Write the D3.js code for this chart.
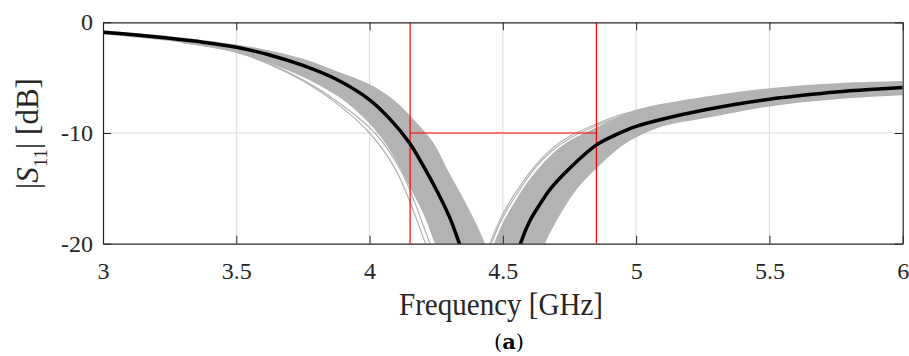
<!DOCTYPE html>
<html>
<head>
<meta charset="utf-8">
<script src="https://cdn.jsdelivr.net/npm/d3@7"></script>
<style>
  body { margin: 0; background: #fff; }
  svg { display: block; }
</style>
</head>
<body>
<div id="chart"></div>
<script>
// tick values
var freqTicks = [3, 3.5, 4, 4.5, 5, 5.5, 6];
var dbTicks = [0, -10, -20];

// nominal |S11| (black), left and right branch of the notch
var nomLeftF  = [3.0, 3.125, 3.25, 3.375, 3.5, 3.625, 3.75, 3.875, 4.0, 4.075, 4.15, 4.2, 4.25, 4.3, 4.337, 4.37];
var nomLeftDb = [-0.9, -1.15, -1.45, -1.8, -2.25, -2.95, -3.9, -5.15, -7.0, -8.7, -10.9, -12.9, -15.1, -17.6, -20, -22.3];
var nomRightF  = [4.54, 4.566, 4.6, 4.64, 4.68, 4.75, 4.85, 4.925, 5.0, 5.125, 5.25, 5.375, 5.5, 5.625, 5.75, 5.875, 6.0];
var nomRightDb = [-22.3, -20, -18.0, -16.4, -15.0, -13.2, -11.1, -10.15, -9.4, -8.6, -7.95, -7.4, -6.95, -6.6, -6.3, -6.08, -5.9];

// gray Monte Carlo band, edges
var bandLeftLowF   = [3.0, 3.25, 3.5, 3.625, 3.75, 3.875, 3.95, 4.03, 4.09, 4.15, 4.2, 4.245, 4.28];
var bandLeftLowDb  = [-1.1, -1.7, -2.7, -3.7, -4.95, -6.6, -8.0, -10.0, -12.1, -14.85, -17.2, -20, -22.3];
var bandLeftHighF  = [3.0, 3.25, 3.5, 3.625, 3.75, 3.875, 4.0, 4.09, 4.15, 4.24, 4.29, 4.34, 4.39, 4.433, 4.46];
var bandLeftHighDb = [-0.75, -1.25, -2.0, -2.55, -3.3, -4.4, -5.6, -7.0, -8.4, -10.9, -13.2, -15.4, -17.7, -20, -22];
var bandRightHighF  = [4.43, 4.466, 4.5, 4.55, 4.6, 4.68, 4.75, 4.85, 4.925, 5.0, 5.25, 5.5, 5.75, 6.0];
var bandRightHighDb = [-22.3, -20, -18.1, -16.0, -14.2, -12.0, -10.7, -9.5, -8.65, -7.9, -6.75, -5.95, -5.5, -5.3];
var bandRightLowF  = [4.63, 4.658, 4.7, 4.74, 4.78, 4.85, 4.95, 5.0, 5.1, 5.25, 5.5, 5.75, 6.0];
var bandRightLowDb = [-22.3, -20, -18.0, -16.4, -15.0, -13.2, -11.1, -10.4, -9.4, -8.7, -7.6, -6.95, -6.6];

// a few stray gray runs outside the band
var strayA_F  = [3.3, 3.5, 3.625, 3.75, 3.875, 4.0, 4.1, 4.21, 4.24];
var strayA_Db = [-1.85, -2.7, -3.8, -5.3, -7.3, -10.0, -13.4, -20, -22];
var strayB_F  = [3.3, 3.5, 3.625, 3.75, 3.875, 4.02, 4.12, 4.227, 4.26];
var strayB_Db = [-1.85, -2.7, -3.75, -5.2, -7.1, -10.0, -13.5, -20, -22];
var strayC_F  = [4.42, 4.451, 4.5, 4.55, 4.62, 4.68, 4.75, 4.85, 4.95, 5.05];
var strayC_Db = [-22, -20, -17.3, -15.3, -13.0, -11.5, -10.3, -9.2, -8.3, -7.75];
var strayD_F  = [4.43, 4.457, 4.5, 4.55, 4.62, 4.68, 4.75, 4.85, 4.95, 5.05];
var strayD_Db = [-22, -20, -17.6, -15.6, -13.2, -11.7, -10.5, -9.35, -8.45, -7.8];

// -10 dB bandwidth markers
var markF = [4.152, 4.851];
var markDb = -10;

(function() {
  var width = 909, height = 356;
  var pLeft = 103, pRight = 902.7, pTop = 22.3, pBottom = 243.7;
  var serif = '"Liberation Serif", "Times New Roman", serif';

  var svg = d3.select('#chart').append('svg')
    .attr('width', width)
    .attr('height', height);

  var x = d3.scaleLinear().domain([3, 6]).range([pLeft, pRight]);
  var y = d3.scaleLinear().domain([-20, 0]).range([pBottom, pTop]);

  function pts(fs, ds) {
    return fs.map(function(f, i) { return [f, ds[i]]; });
  }

  svg.append('clipPath').attr('id', 'plotclip')
    .append('rect')
    .attr('x', pLeft).attr('y', pTop)
    .attr('width', pRight - pLeft).attr('height', pBottom - pTop);

  // grid
  var grid = svg.append('g');
  grid.selectAll('line.gx')
    .data(freqTicks.slice(1, -1))
    .enter().append('line')
    .attr('x1', function(d) { return x(d); })
    .attr('x2', function(d) { return x(d); })
    .attr('y1', pTop).attr('y2', pBottom)
    .attr('stroke', '#dcdcdc').attr('stroke-width', 1);
  grid.selectAll('line.gy')
    .data(dbTicks.slice(1, -1))
    .enter().append('line')
    .attr('y1', function(d) { return y(d); })
    .attr('y2', function(d) { return y(d); })
    .attr('x1', pLeft).attr('x2', pRight)
    .attr('stroke', '#dcdcdc').attr('stroke-width', 1);

  var plot = svg.append('g').attr('clip-path', 'url(#plotclip)');

  var line = d3.line()
    .x(function(d) { return x(d[0]); })
    .y(function(d) { return y(d[1]); })
    .curve(d3.curveCatmullRom.alpha(0.5));

  function band(fa, da, fb, db) {
    var a = line(pts(fa, da));
    var b = line(pts(fb, db).reverse());
    return a + 'L' + b.slice(1) + 'Z';
  }

  plot.append('path')
    .attr('d', band(bandLeftLowF, bandLeftLowDb, bandLeftHighF, bandLeftHighDb))
    .attr('fill', '#b3b3b3');
  plot.append('path')
    .attr('d', band(bandRightHighF, bandRightHighDb, bandRightLowF, bandRightLowDb))
    .attr('fill', '#b3b3b3');

  var strays = [[strayA_F, strayA_Db], [strayB_F, strayB_Db], [strayC_F, strayC_Db], [strayD_F, strayD_Db]];
  plot.selectAll('path.stray')
    .data(strays)
    .enter().append('path')
    .attr('class', 'stray')
    .attr('d', function(s) { return line(pts(s[0], s[1])); })
    .attr('fill', 'none')
    .attr('stroke', '#b3b3b3')
    .attr('stroke-width', 1.2);

  // red -10 dB markers
  var red = plot.append('g').attr('stroke', '#ff0000').attr('stroke-width', 1.2);
  markF.forEach(function(f) {
    red.append('line')
      .attr('x1', x(f)).attr('x2', x(f))
      .attr('y1', pTop).attr('y2', pBottom);
  });
  red.append('line')
    .attr('x1', x(markF[0])).attr('x2', x(markF[1]))
    .attr('y1', y(markDb)).attr('y2', y(markDb));

  // nominal curve
  [[nomLeftF, nomLeftDb], [nomRightF, nomRightDb]].forEach(function(s) {
    plot.append('path')
      .attr('d', line(pts(s[0], s[1])))
      .attr('fill', 'none')
      .attr('stroke', '#000')
      .attr('stroke-width', 3.5);
  });

  // axes (box with inward ticks)
  var fmt = function(d) { return String(d); };
  function axisStyle(g) {
    g.attr('font-family', serif).attr('font-size', 24);
    g.select('.domain').attr('stroke', '#262626').attr('stroke-width', 1.2);
    g.selectAll('.tick line').attr('stroke', '#262626').attr('stroke-width', 1);
    g.selectAll('.tick text').attr('fill', '#262626');
  }

  svg.append('g').attr('transform', 'translate(0,' + pBottom + ')')
    .call(d3.axisBottom(x).tickValues(freqTicks).tickFormat(fmt)
      .tickSizeInner(-8).tickSizeOuter(0).tickPadding(18))
    .call(axisStyle);
  svg.append('g').attr('transform', 'translate(0,' + pTop + ')')
    .call(d3.axisTop(x).tickValues(freqTicks).tickFormat('')
      .tickSizeInner(-8).tickSizeOuter(0))
    .call(axisStyle);
  svg.append('g').attr('transform', 'translate(' + pLeft + ',0)')
    .call(d3.axisLeft(y).tickValues(dbTicks).tickFormat(fmt)
      .tickSizeInner(-8).tickSizeOuter(0).tickPadding(10))
    .call(axisStyle);
  svg.append('g').attr('transform', 'translate(' + pRight + ',0)')
    .call(d3.axisRight(y).tickValues(dbTicks).tickFormat('')
      .tickSizeInner(-8).tickSizeOuter(0))
    .call(axisStyle);

  // axis labels
  svg.append('text')
    .attr('x', 501).attr('y', 315)
    .attr('text-anchor', 'middle')
    .attr('font-family', serif)
    .attr('font-size', 31)
    .attr('fill', '#262626')
    .attr('textLength', 204)
    .attr('lengthAdjust', 'spacingAndGlyphs')
    .text('Frequency [GHz]');

  var yl = svg.append('text')
    .attr('transform', 'translate(38,133.5) rotate(-90)')
    .attr('text-anchor', 'middle')
    .attr('font-family', serif)
    .attr('font-size', 31)
    .attr('fill', '#262626');
  yl.append('tspan').text('|');
  yl.append('tspan').attr('font-style', 'italic').text('S');
  yl.append('tspan').attr('font-size', 19).attr('dy', 9).text('11');
  yl.append('tspan').attr('dy', -9).text('| [dB]');

  // panel caption
  var cap = svg.append('text')
    .attr('x', 509).attr('y', 349)
    .attr('text-anchor', 'middle')
    .attr('font-family', '"DejaVu Serif", serif')
    .attr('font-size', 21)
    .attr('fill', '#000');
  cap.append('tspan').text('(');
  cap.append('tspan').attr('font-weight', 'bold').text('a');
  cap.append('tspan').text(')');
})();
</script>
</body>
</html>
